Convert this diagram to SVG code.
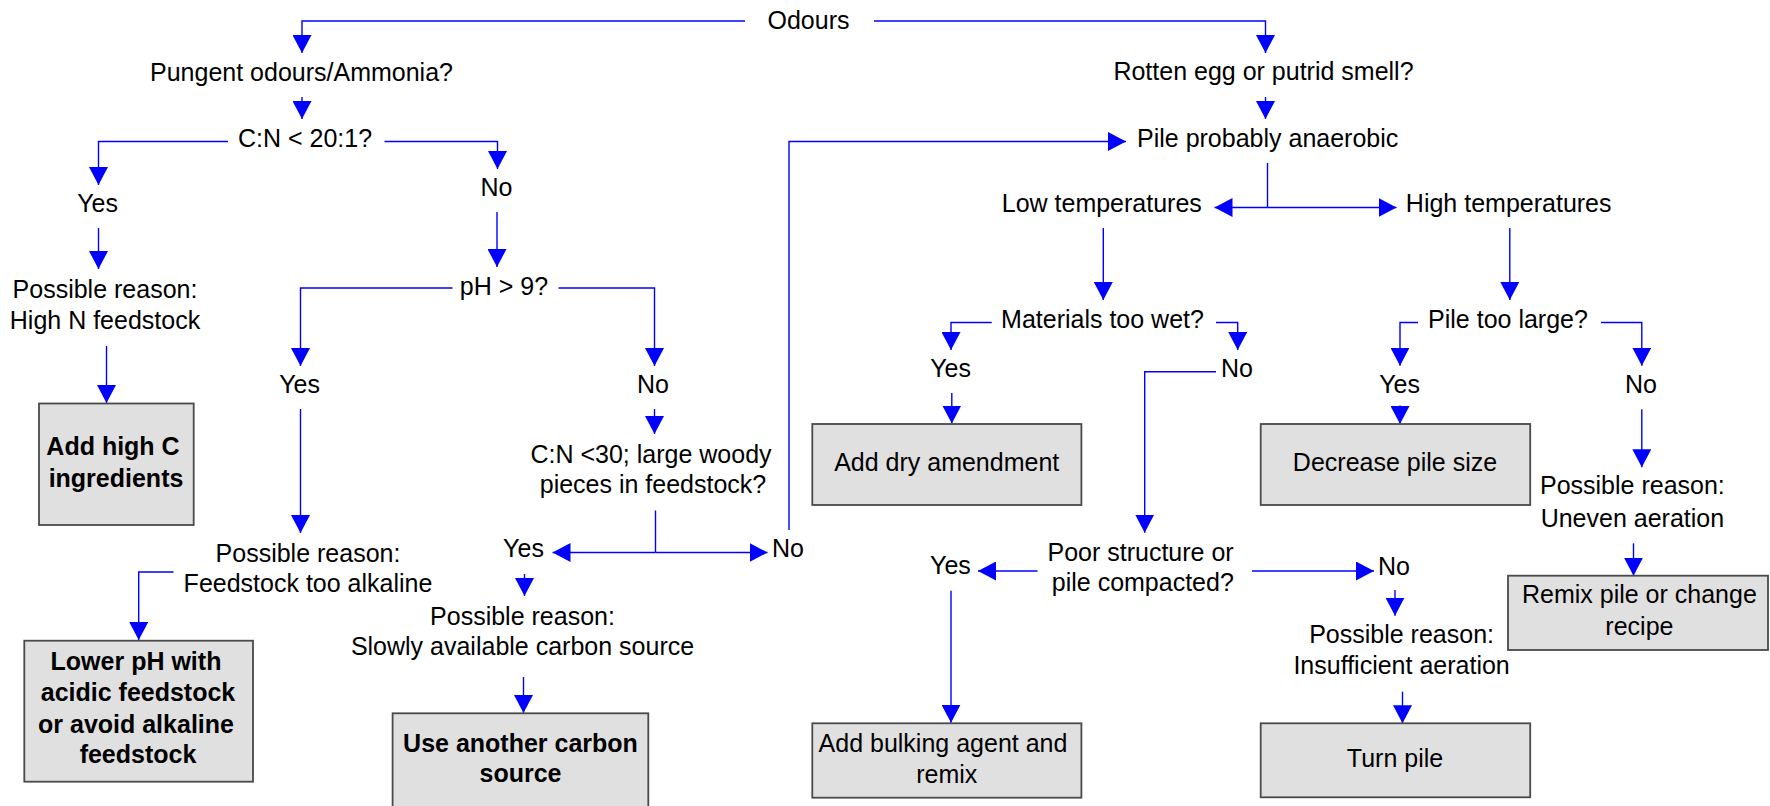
<svg xmlns="http://www.w3.org/2000/svg" width="1770" height="806" viewBox="0 0 1770 806">
<style>
text{font-family:"Liberation Sans",Arial,sans-serif;font-size:25px;fill:#000}
.c{text-anchor:middle}
.b{font-weight:bold}
.box{fill:#e0e0e0;stroke:#4a4a4a;stroke-width:1.8}
.ln{fill:none;stroke:#0000ff;stroke-width:1.4}
.ar{marker-end:url(#ah)}
</style>
<defs>
<marker id="ah" markerWidth="18" markerHeight="19" refX="18" refY="9.5" orient="auto" markerUnits="userSpaceOnUse">
<path d="M0,0 L18,9.5 L0,19 z" fill="#0000ff"/>
</marker>
</defs>
<rect width="1770" height="806" fill="#fff"/>
<g id="connectors">
<path class="ln ar" d="M745,21 H302 V53"/>
<path class="ln ar" d="M874,21 H1265.5 V53"/>
<path class="ln ar" d="M302,97 V119"/>
<path class="ln ar" d="M228,141.5 H98.5 V185"/>
<path class="ln ar" d="M384.5,141.5 H497.5 V169"/>
<path class="ln ar" d="M98.5,228 V269"/>
<path class="ln ar" d="M497,212 V267"/>
<path class="ln ar" d="M106.5,346 V403"/>
<path class="ln ar" d="M452.5,288 H300.5 V366"/>
<path class="ln ar" d="M558.5,288 H654.5 V366"/>
<path class="ln ar" d="M300.5,409 V533"/>
<path class="ln ar" d="M654.5,409 V434"/>
<path class="ln" d="M655.5,510.5 V552.5"/>
<path class="ln ar" d="M655.5,552.5 H552.5"/>
<path class="ln ar" d="M655.5,552.5 H767.5"/>
<path class="ln ar" d="M789,530 V141.5 H1126"/>
<path class="ln ar" d="M524.5,574 V596"/>
<path class="ln ar" d="M523.5,677 V713"/>
<path class="ln ar" d="M173.5,572 H138.7 V640"/>
<path class="ln ar" d="M1265.5,97 V119"/>
<path class="ln" d="M1267.5,163 V207.5"/>
<path class="ln ar" d="M1267.5,207.5 H1214.5"/>
<path class="ln ar" d="M1267.5,207.5 H1396.5"/>
<path class="ln ar" d="M1103.3,228 V300"/>
<path class="ln ar" d="M1509.8,228 V300"/>
<path class="ln ar" d="M991.7,322.5 H951 V350"/>
<path class="ln ar" d="M1216,322.5 H1237.7 V350"/>
<path class="ln ar" d="M951.8,393 V423.5"/>
<path class="ln ar" d="M1216,371.7 H1144.7 V532.7"/>
<path class="ln ar" d="M1037.5,571 H978"/>
<path class="ln ar" d="M1252,571 H1374"/>
<path class="ln ar" d="M951,590.7 V722.7"/>
<path class="ln ar" d="M1395,590 V615.7"/>
<path class="ln ar" d="M1402.5,691.7 V723.3"/>
<path class="ln ar" d="M1418,322.5 H1400 V365.7"/>
<path class="ln ar" d="M1601,322.5 H1641.8 V365.7"/>
<path class="ln ar" d="M1400,405.5 V424"/>
<path class="ln ar" d="M1641.8,409.3 V467.3"/>
<path class="ln ar" d="M1633.5,543.3 V575.7"/>
</g>
<g id="odours"><text class="c" x="808.5" y="29">Odours</text></g>
<g id="pungent"><text class="c" x="301.5" y="81">Pungent odours/Ammonia?</text></g>
<g id="cn20"><text class="c" x="305" y="147">C:N &lt; 20:1?</text></g>
<g id="cn20-yes"><text class="c" x="97.6" y="212">Yes</text></g>
<g id="cn20-no"><text class="c" x="496.5" y="196">No</text></g>
<g id="reason-highn"><text class="c" x="105" y="297.5">Possible reason:</text><text class="c" x="105" y="329">High N feedstock</text></g>
<g id="box-highc"><rect class="box" x="39" y="403.5" width="154.7" height="121.5"/><text class="c b" x="113" y="455">Add high C</text><text class="c b" x="116" y="486.7">ingredients</text></g>
<g id="ph9"><text class="c" x="504" y="295">pH &gt; 9?</text></g>
<g id="ph9-yes"><text class="c" x="299.6" y="393">Yes</text></g>
<g id="ph9-no"><text class="c" x="653" y="393">No</text></g>
<g id="reason-alkaline"><text class="c" x="308" y="561.7">Possible reason:</text><text class="c" x="308" y="592">Feedstock too alkaline</text></g>
<g id="box-lowerph"><rect class="box" x="24.3" y="640.7" width="228.7" height="141"/><text class="c b" x="136" y="670">Lower pH with</text><text class="c b" x="138" y="700.7">acidic feedstock</text><text class="c b" x="136" y="732.7">or avoid alkaline</text><text class="c b" x="138" y="763.3">feedstock</text></g>
<g id="cn30"><text class="c" x="651" y="463.3">C:N &lt;30; large woody</text><text class="c" x="653" y="493.3">pieces in feedstock?</text></g>
<g id="cn30-yes"><text class="c" x="523.5" y="556.7">Yes</text></g>
<g id="cn30-no"><text x="772" y="556.7">No</text></g>
<g id="reason-slow"><text class="c" x="522.5" y="625">Possible reason:</text><text class="c" x="522.5" y="655">Slowly available carbon source</text></g>
<g id="box-carbon"><rect class="box" x="392.6" y="713.3" width="255.7" height="100"/><text class="c b" x="520.5" y="751.7">Use another carbon</text><text class="c b" x="520.5" y="781.7">source</text></g>
<g id="rotten"><text class="c" x="1263.5" y="80">Rotten egg or putrid smell?</text></g>
<g id="anaerobic"><text x="1137" y="146.7">Pile probably anaerobic</text></g>
<g id="lowtemp"><text class="c" x="1101.8" y="212">Low temperatures</text></g>
<g id="hightemp"><text class="c" x="1508.7" y="212">High temperatures</text></g>
<g id="wet"><text class="c" x="1102.5" y="327.7">Materials too wet?</text></g>
<g id="wet-yes"><text class="c" x="950.6" y="376.7">Yes</text></g>
<g id="wet-no"><text class="c" x="1237" y="376.7">No</text></g>
<g id="box-dry"><rect class="box" x="812.3" y="424" width="269.1" height="81"/><text class="c" x="946.7" y="470.7">Add dry amendment</text></g>
<g id="poor"><text class="c" x="1140.6" y="561">Poor structure or</text><text class="c" x="1142.8" y="591">pile compacted?</text></g>
<g id="poor-yes"><text class="c" x="950.4" y="574">Yes</text></g>
<g id="poor-no"><text x="1378" y="575">No</text></g>
<g id="box-bulking"><rect class="box" x="812.3" y="723.3" width="269.1" height="74.4"/><text class="c" x="943" y="751.7">Add bulking agent and</text><text class="c" x="946.8" y="783">remix</text></g>
<g id="reason-insufficient"><text class="c" x="1401.6" y="643">Possible reason:</text><text class="c" x="1401.6" y="674.3">Insufficient aeration</text></g>
<g id="box-turn"><rect class="box" x="1260.7" y="723.3" width="269.5" height="74"/><text class="c" x="1395" y="766.7">Turn pile</text></g>
<g id="large"><text class="c" x="1508" y="328">Pile too large?</text></g>
<g id="large-yes"><text class="c" x="1399.6" y="393.3">Yes</text></g>
<g id="large-no"><text class="c" x="1641" y="393.3">No</text></g>
<g id="box-decrease"><rect class="box" x="1260.7" y="424" width="269.5" height="81"/><text class="c" x="1395" y="470.5">Decrease pile size</text></g>
<g id="reason-uneven"><text class="c" x="1632.4" y="494.3">Possible reason:</text><text class="c" x="1632.4" y="526.7">Uneven aeration</text></g>
<g id="box-remix"><rect class="box" x="1508" y="575.7" width="260" height="74.3"/><text class="c" x="1639.4" y="603.3">Remix pile or change</text><text class="c" x="1639.4" y="635">recipe</text></g>
</svg>
